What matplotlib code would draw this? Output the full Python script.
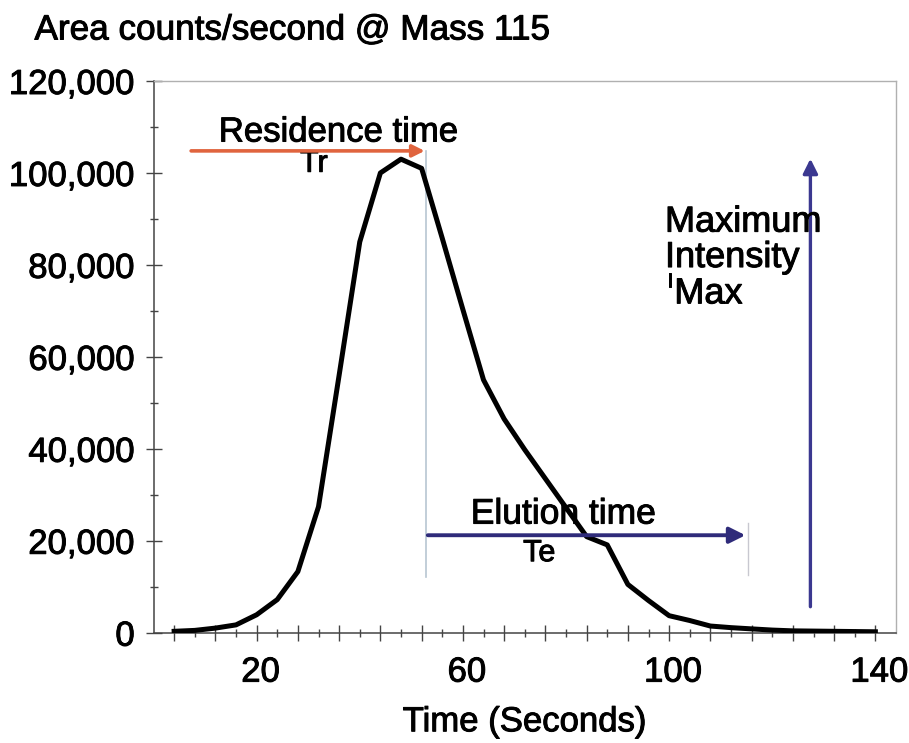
import matplotlib
matplotlib.use("Agg")
import matplotlib.pyplot as plt
import matplotlib.patheffects as pe
from matplotlib.transforms import ScaledTranslation
from matplotlib.ticker import FixedLocator, FuncFormatter, MultipleLocator

plt.rcParams['font.family'] = ['Liberation Sans', 'DejaVu Sans']

# ---- data ----
times = [4, 8, 12, 16, 20, 24, 28, 32, 36, 40, 44, 48, 52, 56, 60, 64, 68,
         72, 76, 80, 84, 88, 92, 96, 100, 104, 108, 112, 116, 120, 124, 128,
         132, 136, 140]
counts = [300, 500, 1000, 1700, 3900, 7200, 13300, 27400, 56000, 85000,
          100000, 103000, 101000, 85800, 70300, 55000, 46500, 39800, 33500,
          27200, 20900, 19100, 10500, 7000, 3700, 2650, 1450, 1100, 830, 570,
          400, 350, 300, 250, 200]
x_labels = [20, 60, 100, 140]
y_ticks = [0, 20000, 40000, 60000, 80000, 100000, 120000]

title_text = "Area counts/second @ Mass 115"
x_title = "Time (Seconds)"

# annotation anchors (data units)
res_arrow = (7.3, 52.6, 104800)      # x0, x1, y
res_vline = (52.8, 12100, 104800)    # x, y0, y1
elu_arrow = (53.2, 114.8, 21200)     # x0, x1, y
elu_vline = (115.3, 12500, 23800)
max_arrow = (127.4, 5650, 103100)    # x, y0, y1

stroke = [pe.withStroke(linewidth=0.7, foreground='black')]

fig = plt.figure(figsize=(9.09, 7.43), dpi=100)
ax = fig.add_axes([153.5 / 909, 1 - 632.7 / 743, (896 - 153.5) / 909, (632.7 - 81) / 743])

ax.plot(times, counts, color='black', lw=3.6, solid_joinstyle='round', zorder=3)

ax.set_xlim(0, 144)
ax.set_ylim(0, 120000)

major_x = [t for t in times if (t - 4) % 8 == 0]
minor_x = [t for t in times if (t - 4) % 8 != 0]
ax.xaxis.set_major_locator(FixedLocator(major_x))
ax.xaxis.set_minor_locator(FixedLocator(minor_x))
ax.xaxis.set_major_formatter(FuncFormatter(lambda v, p: f"{int(round(v))}" if int(round(v)) in x_labels else ""))
ax.yaxis.set_major_locator(FixedLocator(y_ticks))
ax.yaxis.set_minor_locator(MultipleLocator(10000))
ax.yaxis.set_major_formatter(FuncFormatter(lambda v, p: f"{int(v):,}"))

ax.tick_params(axis='both', which='major', direction='inout', length=11, width=1, color='#444444', labelsize=25)
ax.tick_params(axis='both', which='minor', direction='inout', length=6, width=1, color='#444444')
ax.tick_params(axis='y', which='major', pad=8)
ax.tick_params(axis='x', which='major', pad=11)

shift = ScaledTranslation(4 / 100, 0, fig.dpi_scale_trans)
for tick in ax.xaxis.get_major_ticks():
    tick.label1.set_transform(tick.label1.get_transform() + shift)
for lab in ax.get_xticklabels() + ax.get_yticklabels():
    lab.set_path_effects(stroke)

for s in ['left', 'bottom']:
    ax.spines[s].set_color('#444444')
    ax.spines[s].set_linewidth(1.1)
for s in ['top', 'right']:
    ax.spines[s].set_color('#b0b0b0')
    ax.spines[s].set_linewidth(1.0)

ax.set_xlabel(x_title, fontsize=25, labelpad=12, path_effects=stroke)
fig.text(34.5 / 909, 1 - 30 / 743, title_text, fontsize=25.3, ha='left', va='center', path_effects=stroke)

# Residence time arrow
ax.annotate('', xy=(res_arrow[1], res_arrow[2]), xytext=(res_arrow[0], res_arrow[2]),
            arrowprops=dict(arrowstyle='-|>', color='#e0643e', lw=2.6, mutation_scale=18,
                            shrinkA=0, shrinkB=0), zorder=4)
ax.plot([res_vline[0], res_vline[0]], [res_vline[1], res_vline[2]], color='#b8c6d2', lw=1.2, zorder=2)
ax.text(35.9, 108900, "Residence time", fontsize=25, ha='center', va='center', path_effects=stroke)
ax.text(31.1, 102000, "Tr", fontsize=22, ha='center', va='center', path_effects=stroke)

# Elution time arrow
ax.annotate('', xy=(elu_arrow[1], elu_arrow[2]), xytext=(elu_arrow[0], elu_arrow[2]),
            arrowprops=dict(arrowstyle='-|>', color='#2f2b7a', lw=2.8, mutation_scale=24,
                            shrinkA=0, shrinkB=0), zorder=4)
ax.plot([elu_vline[0], elu_vline[0]], [elu_vline[1], elu_vline[2]], color='#c8c8d0', lw=1.0, zorder=2)
ax.text(79.5, 25800, "Elution time", fontsize=25.5, ha='center', va='center', zorder=5, path_effects=stroke)
ax.text(74.8, 17300, "Te", fontsize=22, ha='center', va='center', path_effects=stroke)

# Maximum intensity arrow
ax.annotate('', xy=(max_arrow[0], max_arrow[2]), xytext=(max_arrow[0], max_arrow[1]),
            arrowprops=dict(arrowstyle='-|>', color='#3b3890', lw=2.4, mutation_scale=22,
                            shrinkA=0, shrinkB=0), zorder=4)
ax.text(99.2, 89300, "Maximum", fontsize=26, ha='left', va='center', zorder=5, path_effects=stroke)
ax.text(99.2, 81600, "Intensity", fontsize=26, ha='left', va='center', zorder=5, path_effects=stroke)
ax.text(99.6, 76200, "I", fontsize=14, ha='left', va='center', zorder=5, path_effects=stroke)
ax.text(101.0, 73700, "Max", fontsize=26, ha='left', va='center', zorder=5, path_effects=stroke)

fig.savefig("out.png", dpi=100)
